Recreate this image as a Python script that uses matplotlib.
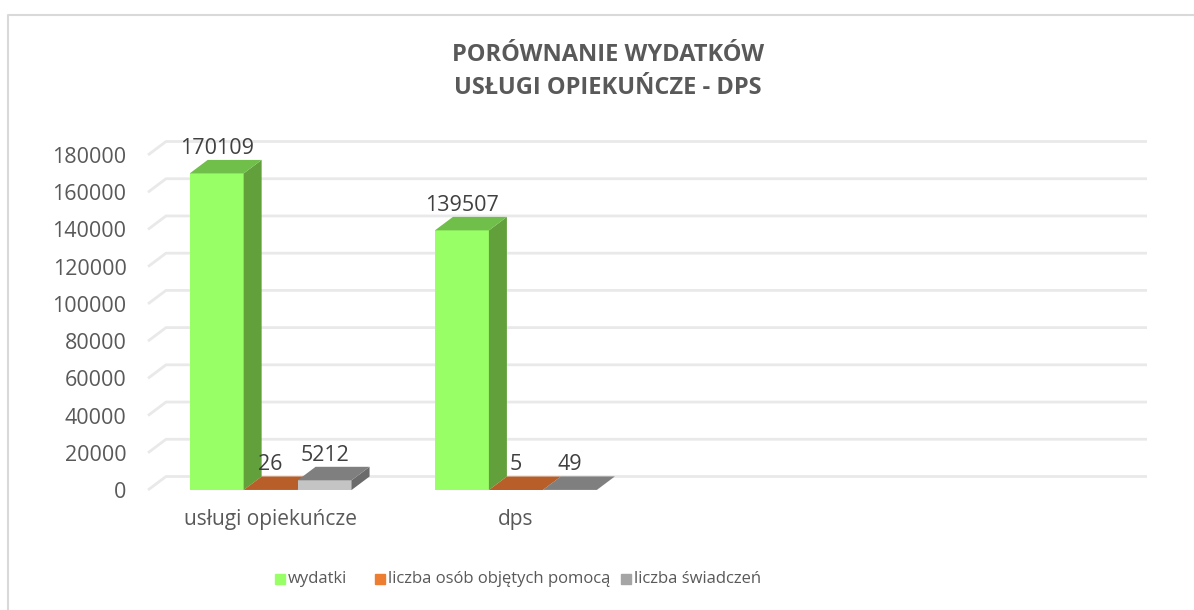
import numpy as np
import matplotlib.pyplot as plt
from matplotlib.patches import Polygon, Rectangle

plt.rcParams["font.family"] = ["Open Sans", "DejaVu Sans"]

# Data
categories = ["usługi opiekuńcze", "dps", "", ""]
series_names = ["wydatki", "liczba osób objętych pomocą", "liczba świadczeń"]
wydatki = [170109, 139507]
liczba_osob = [26, 5]
liczba_swiadczen = [5212, 49]
y_ticks = list(range(0, 180001, 20000))

series_values = [wydatki, liczba_osob, liczba_swiadczen]

# Colours: front, side, top
front_cols = ["#99FF66", "#C0652C", "#C4C4C4"]
side_cols = ["#62A03C", "#9A4F20", "#6B6B6B"]
top_cols = ["#70BF4A", "#B85E28", "#7F7F7F"]
legend_cols = ["#99FF66", "#ED7D31", "#A5A5A5"]
text_col = "#595959"
grid_col = "#E9E9E9"

W, H, DPI = 1194, 610, 100
fig = plt.figure(figsize=(W / DPI, H / DPI), dpi=DPI)

ax_l, ax_r, ax_b, ax_t = 148, 1129, 490, 155
ax = fig.add_axes([ax_l / W, 1 - ax_b / H, (ax_r - ax_l) / W, (ax_b - ax_t) / H])
x_min, x_max = -0.5, len(categories) - 0.5
y_max = 180000
ax.set_xlim(x_min, x_max)
ax.set_ylim(0, y_max)

# 3D depth offset (pixels -> data units)
dx_px, dy_px = 18, 13.5
dxd = dx_px / (ax_r - ax_l) * (x_max - x_min)
dyd = dy_px / (ax_b - ax_t) * y_max

# back wall gridlines
for t in y_ticks:
    ax.plot([x_min, x_min + dxd, x_max + dxd], [t, t + dyd, t + dyd],
            color=grid_col, lw=2, clip_on=False, zorder=1, solid_capstyle="butt")

bar_w = 0.22
offsets = [-bar_w, 0, bar_w]

for i in range(len(wydatki)):
    for s, vals in enumerate(series_values):
        v = vals[i]
        xc = i + offsets[s]
        x0, x1 = xc - bar_w / 2, xc + bar_w / 2
        z = 3 + s
        ax.bar(xc, v, width=bar_w, color=front_cols[s], zorder=z, linewidth=0)
        ax.add_patch(Polygon([(x1, 0), (x1 + dxd, dyd), (x1 + dxd, v + dyd), (x1, v)],
                             closed=True, color=side_cols[s], lw=0, zorder=z, clip_on=False))
        ax.add_patch(Polygon([(x0, v), (x1, v), (x1 + dxd, v + dyd), (x0 + dxd, v + dyd)],
                             closed=True, color=top_cols[s], lw=0, zorder=z, clip_on=False))
        ax.annotate(f"{v}", (xc, v), xytext=(0, dy_px + 1), textcoords="offset pixels",
                    ha="center", va="bottom", fontsize=15.5, color="#404040",
                    zorder=10, annotation_clip=False)

for sp in ax.spines.values():
    sp.set_visible(False)
ax.set_yticks(y_ticks)
ax.set_yticklabels([str(t) for t in y_ticks])
ax.set_xticks(range(len(categories)))
ax.set_xticklabels(categories)
ax.tick_params(axis="y", length=0, pad=15.5, labelsize=15.5, labelcolor=text_col)
ax.tick_params(axis="x", length=0, pad=14, labelsize=15, labelcolor=text_col)

# title
fig.text(608 / W, 1 - 71.5 / H, "PORÓWNANIE WYDATKÓW\nUSŁUGI OPIEKUŃCZE - DPS",
         ha="center", va="center", fontsize=17, fontweight="bold",
         color=text_col, linespacing=1.55)

# legend
leg_x = [275, 375, 621]
leg_y = 579
for name, col, lx in zip(series_names, legend_cols, leg_x):
    fig.patches.append(Rectangle((lx / W, 1 - (leg_y + 5) / H), 10 / W, 10 / H,
                                 transform=fig.transFigure, color=col, figure=fig))
    fig.text((lx + 13) / W, 1 - leg_y / H, name, ha="left", va="center",
             fontsize=12, color=text_col)

# chart border (left/top visible)
fig.add_artist(plt.Line2D([7.5 / W, 7.5 / W, 1], [0, 1 - 14.5 / H, 1 - 14.5 / H],
                          transform=fig.transFigure, color="#D9D9D9", lw=1.5))

fig.savefig("out.png", dpi=DPI)
